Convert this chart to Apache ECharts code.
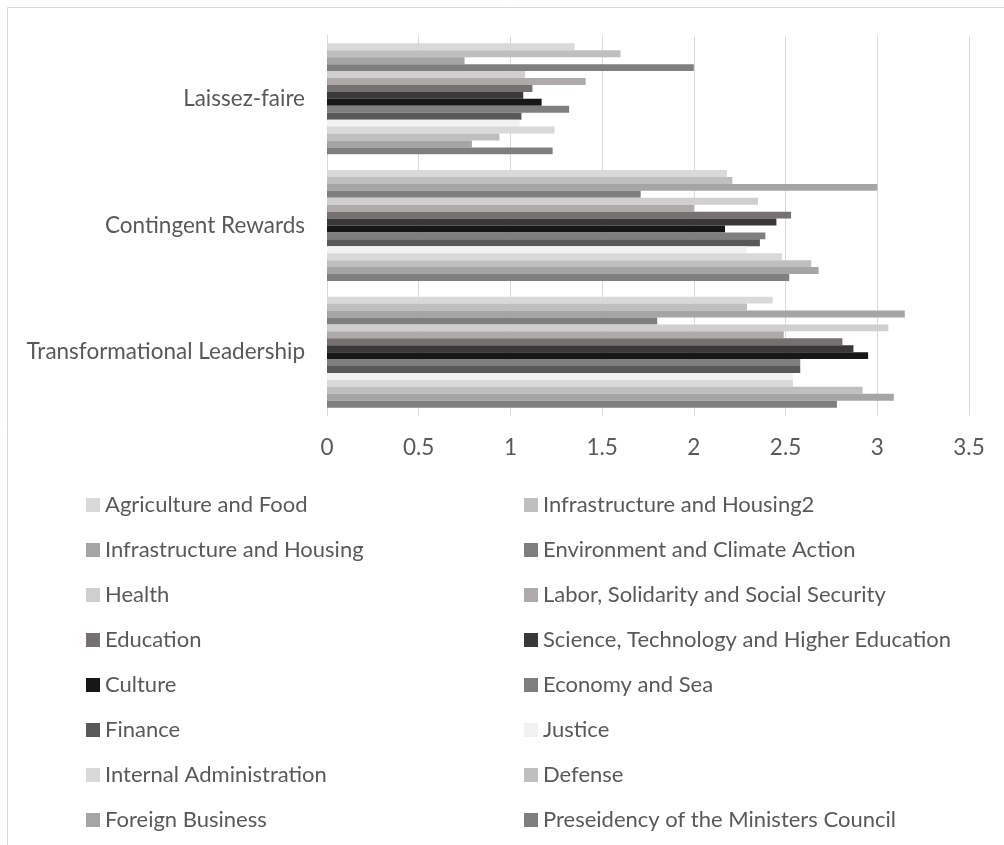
<!DOCTYPE html>
<html>
<head>
<meta charset="utf-8">
<title>Leadership styles by ministry</title>
<script src="https://cdn.jsdelivr.net/npm/echarts@6/dist/echarts.min.js"></script>
<style>
  html, body { margin: 0; padding: 0; background: #ffffff; }
  #chart { width: 1004px; height: 845px; }
</style>
</head>
<body>
<div id="chart"></div>
<script>
// Leadership styles, listed bottom to top on the category axis
const styles = ['Transformational Leadership', 'Contingent Rewards', 'Laissez-faire'];

// Ministries, in legend order (top bar of each group first)
const ministries = [
  'Agriculture and Food',
  'Infrastructure and Housing2',
  'Infrastructure and Housing',
  'Environment and Climate Action',
  'Health',
  'Labor, Solidarity and Social Security',
  'Education',
  'Science, Technology and Higher Education',
  'Culture',
  'Economy and Sea',
  'Finance',
  'Justice',
  'Internal Administration',
  'Defense',
  'Foreign Business',
  'Preseidency of the Ministers Council'
];

// Mean scores per ministry, one array per leadership style
const transformational = [2.43, 2.29, 3.15, 1.80, 3.06, 2.49, 2.81, 2.87, 2.95, 2.58, 2.58, 2.54, 2.54, 2.92, 3.09, 2.78];
const contingentRewards = [2.18, 2.21, 3.00, 1.71, 2.35, 2.00, 2.53, 2.45, 2.17, 2.39, 2.36, 2.29, 2.48, 2.64, 2.68, 2.52];
const laissezFaire     = [1.35, 1.60, 0.75, 2.00, 1.08, 1.41, 1.12, 1.07, 1.17, 1.32, 1.06, 1.05, 1.24, 0.94, 0.79, 1.23];

// Value axis range
const axisMin = 0;
const axisMax = 3.5;
const axisStep = 0.5;

// Grey shades for each ministry
const palette = [
  '#d9d9d9', '#bfbfbf', '#a5a5a5', '#7f7f7f',
  '#d0cece', '#aeaaaa', '#767171', '#3a3838',
  '#171717', '#7f7f7f', '#595959', '#f2f2f2',
  '#d9d9d9', '#bfbfbf', '#a5a5a5', '#7f7f7f'
];

const FONT = 'Lato, "Open Sans", sans-serif';
const TEXT_COLOR = '#595959';
const AXIS_FONT_SIZE = 22.5;
const LEGEND_FONT_SIZE = 22;

const series = ministries.map((name, i) => ({
  name: name,
  type: 'bar',
  barGap: '0%',
  barCategoryGap: '12.4%',
  itemStyle: { color: palette[i] },
  emphasis: { disabled: true },
  data: [transformational[i], contingentRewards[i], laissezFaire[i]]
}));

const legendCommon = {
  orient: 'vertical',
  top: 488,
  itemGap: 21,
  itemWidth: 14,
  itemHeight: 14,
  icon: 'rect',
  selectedMode: false,
  textStyle: {
    fontFamily: FONT,
    fontSize: LEGEND_FONT_SIZE,
    color: TEXT_COLOR,
    lineHeight: 24
  }
};

const chart = echarts.init(document.getElementById('chart'), null, { renderer: 'canvas' });

chart.setOption({
  animation: false,
  backgroundColor: '#ffffff',
  color: palette,
  graphic: [{
    type: 'rect',
    silent: true,
    shape: { x: 7.5, y: 7.5, width: 1100, height: 1000 },
    style: { fill: 'none', stroke: '#d9d9d9', lineWidth: 1 }
  }],
  grid: {
    left: 327,
    top: 35.5,
    width: 642,
    height: 380,
    containLabel: false
  },
  legend: [
    Object.assign({ left: 81, data: ministries.filter((_, i) => i % 2 === 0) }, legendCommon),
    Object.assign({ left: 519, data: ministries.filter((_, i) => i % 2 === 1) }, legendCommon)
  ],
  xAxis: {
    type: 'value',
    min: axisMin,
    max: axisMax,
    interval: axisStep,
    axisLine: { show: false },
    axisTick: { show: false },
    splitLine: { show: true, lineStyle: { color: '#d9d9d9', width: 1 } },
    axisLabel: {
      margin: 21,
      fontFamily: FONT,
      fontSize: AXIS_FONT_SIZE,
      color: TEXT_COLOR
    }
  },
  yAxis: {
    type: 'category',
    data: styles,
    axisLine: { show: true, lineStyle: { color: '#d9d9d9', width: 1 } },
    axisTick: { show: false },
    splitLine: { show: false },
    axisLabel: {
      margin: 22,
      fontFamily: FONT,
      fontSize: AXIS_FONT_SIZE,
      color: TEXT_COLOR
    }
  },
  series: series
});
</script>
</body>
</html>
